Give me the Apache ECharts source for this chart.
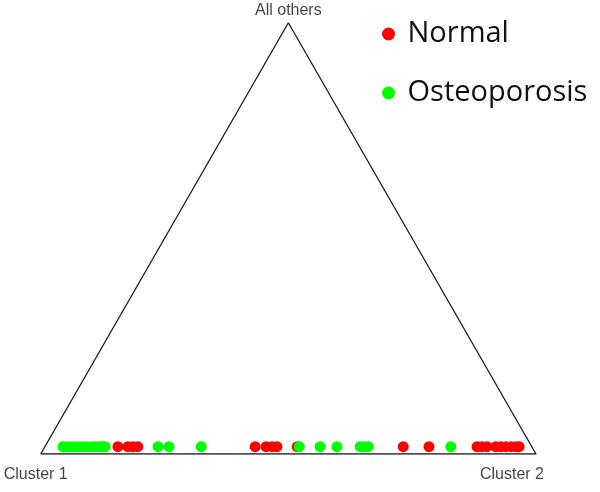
<!DOCTYPE html>
<html>
<head>
<meta charset="utf-8">
<script src="https://cdn.jsdelivr.net/npm/echarts@6/dist/echarts.min.js"></script>
<style>html,body{margin:0;padding:0;background:#fff;}#c{width:600px;height:492px;}</style>
</head>
<body>
<div id="c"></div>
<script>
// Position along the bottom edge = share of Cluster 2 (0 = Cluster 1, 1 = Cluster 2)
const vertexLabels = ['Cluster 1', 'Cluster 2', 'All others'];
const seriesNames = ['Normal', 'Osteoporosis'];
const normalCluster2 = [0.156, 0.176, 0.186, 0.196, 0.433, 0.455, 0.467, 0.477, 0.518, 0.732, 0.784,
  0.881, 0.891, 0.901, 0.919, 0.929, 0.939, 0.950, 0.960, 0.966];
const osteoCluster2 = [0.045, 0.053, 0.061, 0.069, 0.077, 0.085, 0.093, 0.102, 0.110, 0.118, 0.124, 0.130,
  0.237, 0.259, 0.324, 0.522, 0.564, 0.598, 0.645, 0.653, 0.661, 0.828];
const allOthersShare = 0.017;

const chart = echarts.init(document.getElementById('c'));
const triangle = [[0, 0], [1, 0], [0.5, 1], [0, 0]];
const toXY = v => [v, allOthersShare];

chart.setOption({
  animation: false,
  grid: { left: 40.7, right: 64, top: 22.7, bottom: 38 },
  xAxis: { type: 'value', min: 0, max: 1, show: false },
  yAxis: { type: 'value', min: 0, max: 1, show: false },
  legend: {
    data: seriesNames.map(n => ({ name: n, icon: 'circle' })),
    orient: 'vertical', left: 382, top: 17.5, padding: 0,
    itemWidth: 28, itemHeight: 13, itemGap: 26,
    textStyle: { fontFamily: 'Open Sans', fontSize: 29, color: '#111', lineHeight: 33 }
  },
  series: [
    {
      type: 'line', data: triangle, symbol: 'none', silent: true,
      lineStyle: { color: '#1a1a1a', width: 1.3 }, z: 1
    },
    {
      type: 'scatter', silent: true, symbolSize: 0, z: 1,
      data: [
        { value: [0, 0], label: { formatter: vertexLabels[0], offset: [-5, 21] } },
        { value: [1, 0], label: { formatter: vertexLabels[1], offset: [-24, 21] } },
        { value: [0.5, 1], label: { formatter: vertexLabels[2], offset: [0, -12] } }
      ],
      label: { show: true, position: 'inside', fontFamily: 'Liberation Sans', fontSize: 16, color: '#111' }
    },
    {
      name: seriesNames[0], type: 'scatter', symbol: 'circle', symbolSize: 11,
      itemStyle: { color: '#ff0000', opacity: 1 }, data: normalCluster2.map(toXY), z: 3
    },
    {
      name: seriesNames[1], type: 'scatter', symbol: 'circle', symbolSize: 11,
      itemStyle: { color: '#00ff00', opacity: 1 }, data: osteoCluster2.map(toXY), z: 4
    }
  ]
});
</script>
</body>
</html>
